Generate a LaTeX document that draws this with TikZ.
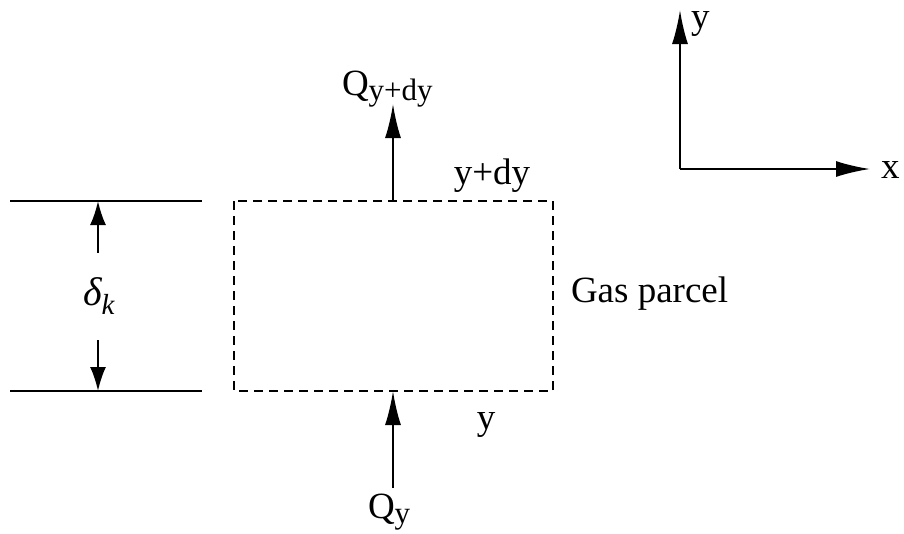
\documentclass[tikz,border=0pt]{standalone}
\usepackage{fontspec}
\setmainfont{Liberation Serif}
\usetikzlibrary{arrows.meta}
\newcommand{\subtxt}[1]{\raisebox{-5pt}{\fontsize{31}{31}\selectfont #1}}
\begin{document}
\begin{tikzpicture}[x=1pt,y=-1pt,line width=2pt,
  lbl/.style={inner sep=0pt,font=\fontsize{37}{40}\selectfont},
  bigarrow/.style={-{Latex[length=34pt,width=16pt]}},
  smallarrow/.style={-{Latex[length=24pt,width=16pt]}},
  parcel/.style={dash pattern=on 9pt off 6pt}]
\useasboundingbox (0,0) rectangle (904,533);

% layer of thickness delta_k
\coordinate (ta) at (10,201);
\coordinate (tb) at (202,201);
\coordinate (ba) at (10,391);
\coordinate (bb) at (202,391);
\coordinate (dtop) at (98,201);
\coordinate (dbot) at (98,391);
\coordinate (dup) at (98,253);
\coordinate (ddown) at (98,340);
\draw (ta) -- (tb);
\draw (ba) -- (bb);
\node[lbl,anchor=base west] (delta) at (82,305) {\fontsize{40}{40}\selectfont\itshape δ\raisebox{-9pt}{\fontsize{29}{29}\selectfont k}};
\draw[smallarrow] (dup) -- (dtop);
\draw[smallarrow] (ddown) -- (dbot);

% gas parcel
\coordinate (p1) at (234,201);
\coordinate (p2) at (553,391);
\draw[parcel] (p1) rectangle (p2);
\coordinate (qin) at (393,391);
\coordinate (qout) at (393,201);
\node[lbl,anchor=base west] (parcel) at (570,302) {Gas parcel};
\node[lbl,anchor=base] (ytop) at (492,184) {y+dy};
\node[lbl,anchor=base] (ybot) at (486,429) {y};

% fluxes
\node[lbl,anchor=base west] (qtop) at (341,95) {Q\subtxt{y+dy}};
\node[lbl,anchor=base west] (qbot) at (367,518) {Q\subtxt{y}};
\coordinate (qtopend) at (393,104);
\coordinate (qbotend) at (393,488);
\draw[bigarrow] (qout) -- (qtopend);
\draw[bigarrow] (qbotend) -- (qin);

% axes
\coordinate (o) at (680,169);
\coordinate (yend) at (680,10);
\coordinate (xend) at (870,169);
\draw[bigarrow] (o) -- (yend);
\draw[bigarrow] (o) -- (xend);
\node[lbl,anchor=base west] (ylab) at (690,28) {y};
\node[lbl,anchor=base west] (xlab) at (880,178) {x};
\end{tikzpicture}
\end{document}
